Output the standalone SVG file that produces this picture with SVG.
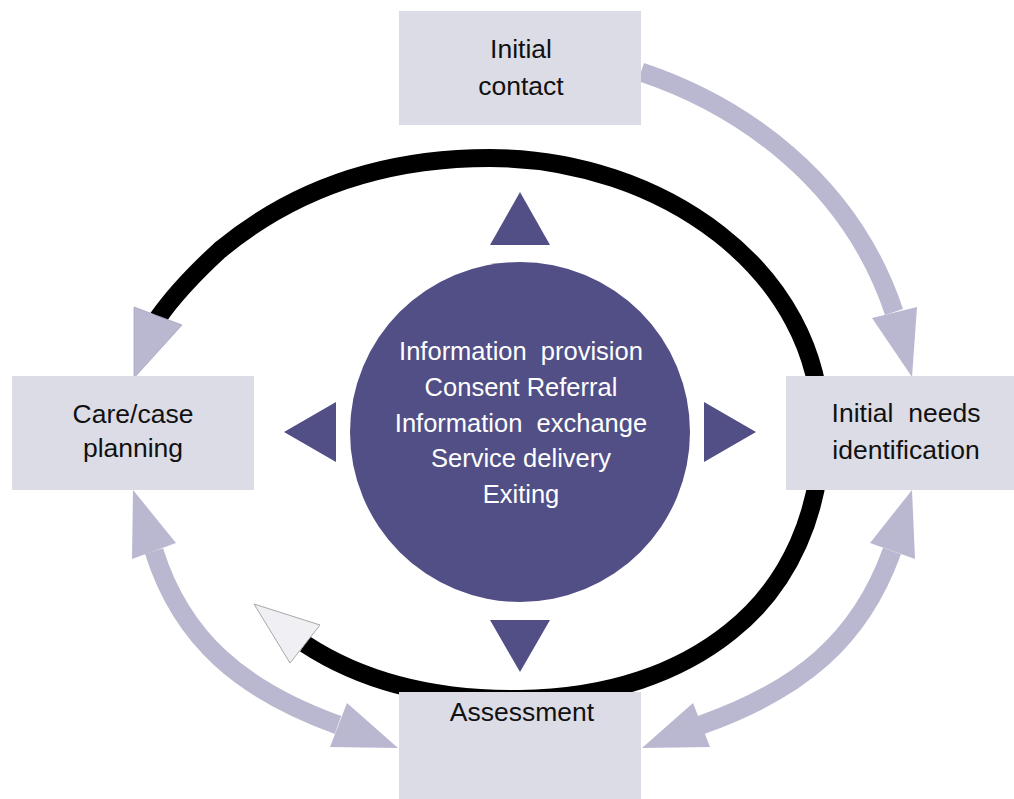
<svg xmlns="http://www.w3.org/2000/svg" width="1014" height="799" viewBox="0 0 1014 799">
<style>
.box{fill:#dcdce6}
.lbl{font-family:"Liberation Sans",Arial,sans-serif;font-size:26.5px;fill:#111;text-anchor:middle}
.ctext{font-family:"Liberation Sans",Arial,sans-serif;font-size:25.5px;fill:#fff;text-anchor:middle}
.shaft{fill:none;stroke:#b9b8d0;stroke-width:19}
.head{fill:#b9b8d0}
.tri{fill:#524f86}
</style>
<rect width="1014" height="799" fill="#fff"/>
<g id="connectors">
  <path d="M305,644 C360,680 430,700 520,699 C610,698 680,672 730,632 C790,585 822,510 821,430 C821,270 660,158 490,158 C380,158 290,192 220,250 C195,273 172,298 158,318" fill="none" stroke="#000" stroke-width="18"/>
  <polygon points="134,307 182,325 134,378" fill="#b9b8d0" stroke="#a5a4c2" stroke-width="0.8"/>
  <polygon points="254,604 320,625 290,663" fill="#efeff4" stroke="#a8a8a8" stroke-width="1"/>
  <path class="shaft" d="M641,72 C740,105 850,180 894,312"/>
  <polygon class="head" points="872,318 917,307 912,377"/>
  <path class="shaft" d="M892,551 C860,640 800,690 701,725"/>
  <polygon class="head" points="912,490 870,543 915,559"/>
  <polygon class="head" points="642,748 693,703 710,747"/>
  <path class="shaft" d="M154,551 C182,640 242,690 338,725"/>
  <polygon class="head" points="133,490 132,559 176,543"/>
  <polygon class="head" points="398,748 347,703 330,747"/>
</g>
<g id="center">
  <circle cx="520" cy="432" r="170" fill="#524f86"/>
  <polygon class="tri" points="520,192 550,245 490,245"/>
  <polygon class="tri" points="490,620 550,620 520,672"/>
  <polygon class="tri" points="284,432 336,402 336,462"/>
  <polygon class="tri" points="756,432 704,402 704,462"/>
  <text class="ctext" x="521" y="360" xml:space="preserve">Information  provision</text>
  <text class="ctext" x="521" y="396">Consent Referral</text>
  <text class="ctext" x="521" y="432" xml:space="preserve">Information  exchange</text>
  <text class="ctext" x="521" y="467">Service delivery</text>
  <text class="ctext" x="521" y="503">Exiting</text>
</g>
<g id="initial-contact">
  <rect class="box" x="399" y="11" width="242" height="114"/>
  <text class="lbl" x="521" y="58">Initial</text>
  <text class="lbl" x="521" y="95">contact</text>
</g>
<g id="initial-needs">
  <rect class="box" x="786" y="376" width="230" height="114"/>
  <text class="lbl" x="906" y="422" xml:space="preserve">Initial  needs</text>
  <text class="lbl" x="906" y="459">identification</text>
</g>
<g id="care-planning">
  <rect class="box" x="12" y="376" width="242" height="114"/>
  <text class="lbl" x="133" y="423">Care/case</text>
  <text class="lbl" x="133" y="457">planning</text>
</g>
<g id="assessment">
  <rect class="box" x="399" y="692" width="242" height="110"/>
  <text class="lbl" x="522" y="721">Assessment</text>
</g>
</svg>
